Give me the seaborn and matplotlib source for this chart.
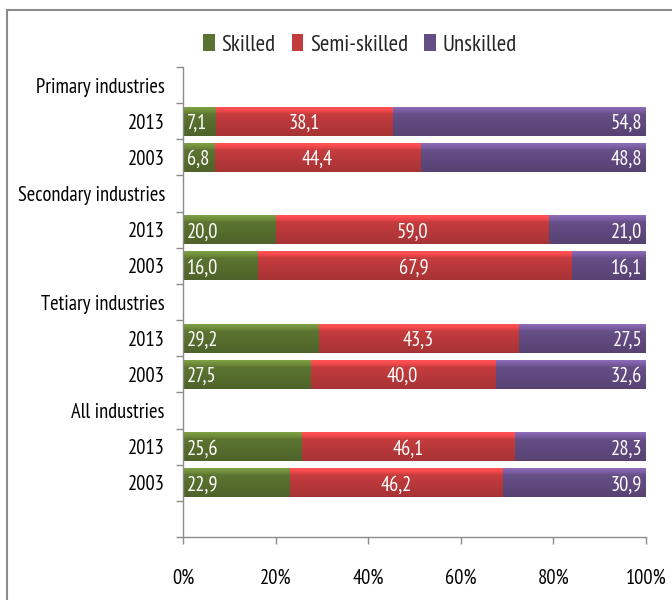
import numpy as np
import pandas as pd
import seaborn as sns
import matplotlib.pyplot as plt
from matplotlib.colors import to_rgb
from matplotlib.patches import Rectangle
from matplotlib.ticker import FixedLocator

# rows of the chart, top to bottom (header rows carry no bar)
row_labels = ["Primary industries", "2013", "2003",
              "Secondary industries", "2013", "2003",
              "Tetiary industries", "2013", "2003",
              "All industries", "2013", "2003", ""]
bar_rows = [1, 2, 4, 5, 7, 8, 10, 11]
skilled = [7.1, 6.8, 20.0, 16.0, 29.2, 27.5, 25.6, 22.9]
semi_skilled = [38.1, 44.4, 59.0, 67.9, 43.3, 40.0, 46.1, 46.2]
unskilled = [54.8, 48.8, 21.0, 16.1, 27.5, 32.6, 28.3, 30.9]
series = ["Skilled", "Semi-skilled", "Unskilled"]
colors = {"Skilled": "#5b7330", "Semi-skilled": "#c23b3d", "Unskilled": "#654d85"}

keys = [f"r{i}" for i in range(len(row_labels))]
df = pd.DataFrame({
    "key": [keys[i] for i in bar_rows],
    "Skilled": skilled,
    "Semi-skilled": semi_skilled,
    "Unskilled": unskilled,
})
total = df[series].sum(axis=1)
# 100% stacked: cumulative shares
df["cum_skilled"] = df["Skilled"] / total * 100
df["cum_semi"] = (df["Skilled"] + df["Semi-skilled"]) / total * 100
df["cum_all"] = 100.0

sns.set_style("white")
plt.rcParams["font.family"] = ["PT Sans Narrow", "Carlito", "DejaVu Sans"]
fs = 14.8

fig = plt.figure(figsize=(6.72, 6.0), dpi=100)
ax = fig.add_axes([183 / 672, 1 - 537 / 600, 463 / 672, 470 / 600])

# layered bars give the stacked look
for col, name in [("cum_all", "Unskilled"), ("cum_semi", "Semi-skilled"), ("cum_skilled", "Skilled")]:
    sns.barplot(data=df, x=col, y="key", order=keys, color=colors[name],
                width=0.8, errorbar=None, orient="h", ax=ax, saturation=1)

ax.set_xlim(0, 100)
ax.set_ylim(len(keys) - 0.5, -0.5)

# soft vertical gradient on every bar (Excel bevel look)
xl, yl = ax.get_xlim(), ax.get_ylim()
shade = np.concatenate([np.linspace(1.4, 1.12, 7), np.linspace(1.02, 0.86, 25)])
for p in list(ax.patches):
    x0, y0 = p.get_x(), p.get_y()
    w, h = p.get_width(), p.get_height()
    base = np.array(to_rgb(p.get_facecolor()))
    img = np.clip(shade[:, None, None] * base[None, None, :], 0, 1)
    im = ax.imshow(img, extent=(x0, x0 + w, y0 + h, y0), origin="upper",
                   aspect="auto", zorder=p.get_zorder() + 0.1, interpolation="bilinear")
    im.set_clip_path(p)
    p.set_edgecolor("none")
ax.set_xlim(xl)
ax.set_ylim(yl)

# value labels
for j, r in enumerate(bar_rows):
    yc = r + 0.06
    s0 = df["cum_skilled"].iloc[j]
    s1 = df["cum_semi"].iloc[j]
    ax.text(0.8, yc, f"{skilled[j]:.1f}".replace(".", ","), color="white",
            ha="left", va="center", fontsize=fs, zorder=10)
    ax.text((s0 + s1) / 2, yc, f"{semi_skilled[j]:.1f}".replace(".", ","), color="white",
            ha="center", va="center", fontsize=fs, zorder=10)
    ax.text(99.2, yc, f"{unskilled[j]:.1f}".replace(".", ","), color="white",
            ha="right", va="center", fontsize=fs, zorder=10)

# axes styling
ax.set_xlabel("")
ax.set_ylabel("")
ax.set_xticks(range(0, 101, 20))
ax.set_xticklabels([f"{v}%" for v in range(0, 101, 20)])
ax.set_yticks(range(len(keys)))
ax.set_yticklabels(row_labels)
ax.yaxis.set_minor_locator(FixedLocator(np.arange(-0.5, len(keys), 1.0)))
ax.tick_params(axis="y", which="major", length=0, pad=13, labelsize=fs, colors="black")
ax.tick_params(axis="y", which="minor", left=True, length=5, width=1, color="#8c8c8c")
ax.tick_params(axis="x", which="major", bottom=True, length=5, width=1, color="#8c8c8c",
               pad=18, labelsize=fs, labelcolor="black")
for s in ["top", "right"]:
    ax.spines[s].set_visible(False)
for s in ["left", "bottom"]:
    ax.spines[s].set_color("#8c8c8c")
    ax.spines[s].set_linewidth(1)
ax.grid(False)

# legend
handles = [Rectangle((0, 0), 1, 1, facecolor=colors[n], edgecolor="none") for n in series]
fig.legend(handles, series, loc="center", bbox_to_anchor=(360 / 672, 1 - 45 / 600),
           ncol=3, frameon=False, handlelength=0.5, handleheight=0.7,
           columnspacing=0.7, handletextpad=0.3, fontsize=16.5)

# chart area border
fig.add_artist(Rectangle((7 / 672, -0.1), 2, 1 - 10 / 600 + 0.1, transform=fig.transFigure,
                         fill=False, edgecolor="#8c8c8c", linewidth=1.5))

fig.savefig("out.png", dpi=100)
